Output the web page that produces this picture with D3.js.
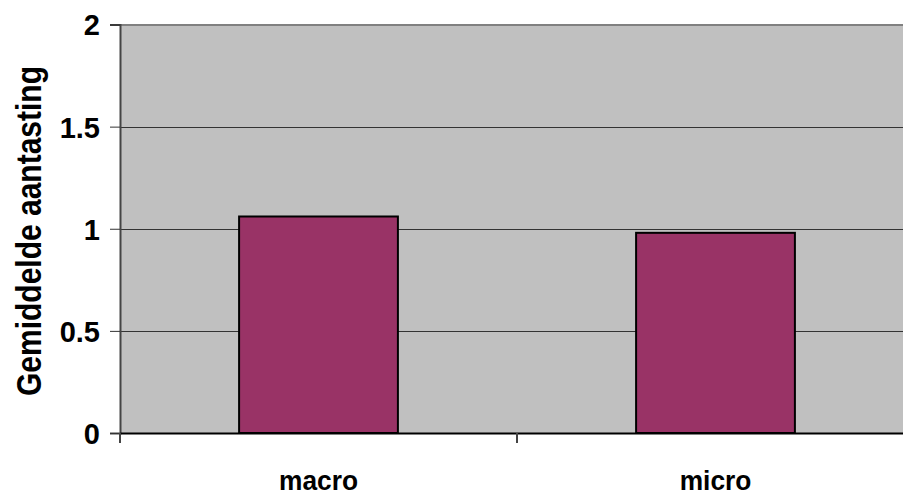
<!DOCTYPE html>
<html>
<head>
<meta charset="utf-8">
<script src="https://cdn.jsdelivr.net/npm/d3@7"></script>
<style>
  html, body { margin: 0; padding: 0; background: #fff; }
  svg { display: block; font-family: "Liberation Sans", Arial, sans-serif; }
</style>
</head>
<body>
<svg id="chart" width="903" height="495"></svg>
<script>
const categories = ["macro", "micro"];
const values = [1.06, 0.98];
const yTicks = [0, 0.5, 1, 1.5, 2];
const yTickLabels = ["0", "0.5", "1", "1.5", "2"];
const yTitle = "Gemiddelde aantasting";

(function () {
const svg = d3.select("#chart");
const pLeft = 120, pRight = 914, pTop = 24.5, pBottom = 433;

const x = d3.scaleBand().domain(categories).range([pLeft, pRight]).padding(0);
const y = d3.scaleLinear().domain([0, 2]).range([pBottom, pTop]);

// plot background
svg.append("rect").attr("x", pLeft).attr("y", pTop).attr("width", pRight - pLeft).attr("height", pBottom - pTop)
  .attr("fill", "#c0c0c0");

// gridlines
svg.append("g").selectAll("line").data(yTicks.filter(t => t > 0 && t < 2)).join("line")
  .attr("x1", pLeft).attr("x2", pRight)
  .attr("y1", d => Math.round(y(d)) + 0.5).attr("y2", d => Math.round(y(d)) + 0.5)
  .attr("stroke", "#333").attr("stroke-width", 1);

// top border
svg.append("line").attr("x1", pLeft).attr("x2", pRight).attr("y1", 25).attr("y2", 25)
  .attr("stroke", "#808080").attr("stroke-width", 2);

// bars
const step = x.step();
svg.append("g").selectAll("rect").data(categories).join("rect")
  .attr("x", (d) => x(d) + step * 0.3)
  .attr("width", step * 0.4)
  .attr("y", (d, i) => y(values[i]))
  .attr("height", (d, i) => pBottom - y(values[i]))
  .attr("fill", "#993366")
  .attr("stroke", "#000").attr("stroke-width", 2);

// y axis
const yAxis = d3.axisLeft(y).tickValues(yTicks).tickFormat((d, i) => yTickLabels[i]).tickSize(10).tickPadding(10);
const gy = svg.append("g").attr("transform", `translate(${pLeft},0)`).call(yAxis);
gy.select(".domain").attr("stroke", "#444").attr("stroke-width", 2);
gy.selectAll(".tick line").attr("stroke", "#333");
gy.selectAll(".tick text").attr("font-size", 29).attr("font-weight", "bold").attr("fill", "#000")
  .attr("font-family", "Liberation Sans, Arial, sans-serif").attr("dy", "0.36em");

// x axis
const xAxis = d3.axisBottom(x).tickSize(0).tickFormat(d => d).tickPadding(0);
const gx = svg.append("g").attr("transform", `translate(0,${pBottom})`).call(xAxis);
gx.select(".domain").attr("stroke", "#000").attr("stroke-width", 2);
gx.selectAll(".tick text").attr("font-size", 28).attr("font-weight", "bold").attr("fill", "#000")
  .attr("font-family", "Liberation Sans, Arial, sans-serif")
  .attr("y", 0).attr("dy", 0)
  .attr("transform", "translate(0,57) scale(0.94,1)");
// category boundary ticks
const bounds = [pLeft, pLeft + step, pRight];
svg.append("g").selectAll("line").data(bounds).join("line")
  .attr("x1", d => d).attr("x2", d => d).attr("y1", pBottom).attr("y2", pBottom + 10)
  .attr("stroke", "#444").attr("stroke-width", 2);

// y title
svg.append("text")
  .attr("transform", `translate(41,${(65 + 397) / 2}) rotate(-90) scale(1,1.15)`)
  .attr("text-anchor", "middle")
  .attr("font-size", 30).attr("font-weight", "bold")
  .text(yTitle);
})();
</script>
</body>
</html>
